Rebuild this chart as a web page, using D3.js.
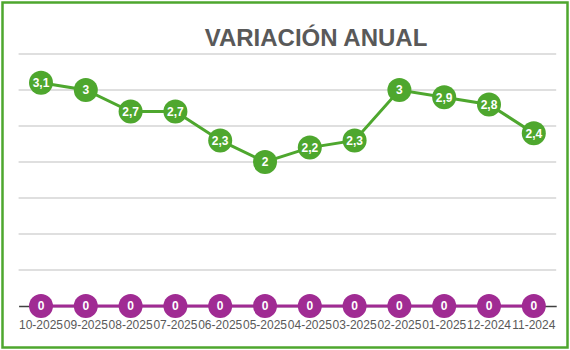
<!DOCTYPE html>
<html>
<head>
<meta charset="utf-8">
<script src="https://cdn.jsdelivr.net/npm/d3@7"></script>
<style>
  body { margin: 0; background: #fff; }
  text { font-family: "Liberation Sans", Arial, sans-serif; }
</style>
</head>
<body>
<svg id="chart"></svg>
<script>
// data
const months = ['10-2025', '09-2025', '08-2025', '07-2025', '06-2025', '05-2025',
  '04-2025', '03-2025', '02-2025', '01-2025', '12-2024', '11-2024'];
const variacion = [3.1, 3, 2.7, 2.7, 2.3, 2, 2.2, 2.3, 3, 2.9, 2.8, 2.4];
const baseSeries = [0, 0, 0, 0, 0, 0, 0, 0, 0, 0, 0, 0];
const yTicks = [0, 0.5, 1, 1.5, 2, 2.5, 3, 3.5];

const width = 570, height = 350;
const margin = {top: 54, right: 14, bottom: 44, left: 18.6};
const green = '#4ea72e', purple = '#a02b93';

const svg = d3.select('#chart')
    .attr('width', width)
    .attr('height', height);

// outer frame
svg.append('rect')
    .attr('x', 2.5).attr('y', 2.5)
    .attr('width', width - 5).attr('height', height - 5)
    .attr('fill', '#fff')
    .attr('stroke', green)
    .attr('stroke-width', 2.5);

const innerW = 537.6;
const innerH = height - margin.top - margin.bottom;

const x = d3.scaleBand()
    .domain(months)
    .range([0, innerW]);

const y = d3.scaleLinear()
    .domain([0, 3.5])
    .range([innerH, 0]);

const chart = svg.append('g')
    .attr('transform', `translate(${margin.left},${margin.top})`);

// gridlines
chart.append('g')
    .selectAll('line')
    .data(yTicks.filter(d => d > 0))
    .join('line')
      .attr('x1', 0).attr('x2', innerW)
      .attr('y1', d => y(d)).attr('y2', d => y(d))
      .attr('stroke', '#bfbfbf')
      .attr('stroke-width', 1);

// x axis
const xAxisG = chart.append('g')
    .attr('transform', `translate(0,${y(0)})`)
    .call(d3.axisBottom(x).tickSize(0).tickPadding(14));
xAxisG.select('.domain').attr('stroke', '#404040').attr('stroke-width', 1.5);
xAxisG.selectAll('text')
    .attr('fill', '#595959')
    .style('font-size', '12px');

const cx = d => x(d) + x.bandwidth() / 2;

function drawSeries(values, color) {
  const pts = months.map((m, i) => ({m, v: values[i]}));
  chart.append('path')
      .datum(pts)
      .attr('fill', 'none')
      .attr('stroke', color)
      .attr('stroke-width', 3)
      .attr('d', d3.line().x(d => cx(d.m)).y(d => y(d.v)));

  const g = chart.append('g')
    .selectAll('g')
    .data(pts)
    .join('g')
      .attr('transform', d => `translate(${cx(d.m)},${y(d.v)})`);
  g.append('circle')
      .attr('r', 12)
      .attr('fill', color);
  g.append('text')
      .attr('text-anchor', 'middle')
      .attr('dy', '0.36em')
      .attr('fill', '#fff')
      .style('font-size', '12px')
      .style('font-weight', 'bold')
      .text(d => String(d.v).replace('.', ','));
}

drawSeries(baseSeries, purple);
drawSeries(variacion, green);

// title
svg.append('text')
    .attr('x', 316)
    .attr('y', 46)
    .attr('text-anchor', 'middle')
    .attr('fill', '#595959')
    .style('font-size', '24px')
    .style('font-weight', 'bold')
    .text('VARIACIÓN ANUAL');
</script>
</body>
</html>
